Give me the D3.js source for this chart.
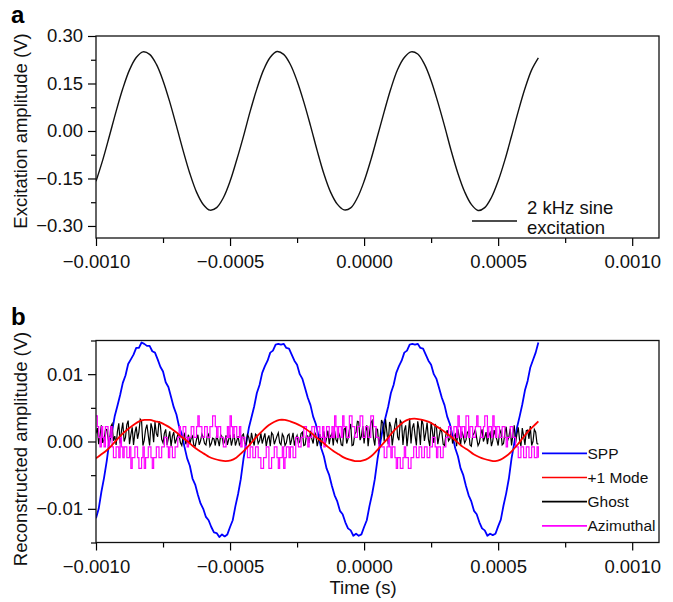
<!DOCTYPE html>
<html>
<head>
<meta charset="utf-8">
<script src="https://cdn.jsdelivr.net/npm/d3@7"></script>
<style>
  body { margin: 0; background: #fff; }
  svg { display: block; font-family: "Liberation Sans", Arial, Helvetica, sans-serif; }
</style>
</head>
<body>
<svg id="chart" width="673" height="602"></svg>
<script>
// every trace is sampled evenly over the same time window (s)
const T_START = -0.001;
const T_END = 0.00065;

// panel a: 2 kHz sine excitation (V)
const excitation = [
  -0.159, -0.092, -0.016, 0.062, 0.134, 0.193, 0.232, 0.250, 0.242, 0.211,
  0.159, 0.092, 0.016, -0.062, -0.134, -0.193, -0.232, -0.250, -0.242, -0.211,
  -0.159, -0.091, -0.017, 0.062, 0.133, 0.193, 0.233, 0.251, 0.242, 0.210,
  0.158, 0.092, 0.017, -0.062, -0.135, -0.193, -0.231, -0.249, -0.243, -0.211,
  -0.159, -0.092, -0.016, 0.061, 0.134, 0.194, 0.232, 0.250, 0.243, 0.211,
  0.159, 0.091, 0.016, -0.063, -0.134, -0.192, -0.232, -0.251, -0.242, -0.210,
  -0.158, -0.092, -0.016, 0.062, 0.134, 0.193, 0.231
];

// panel b traces, read in units of 0.1 mV
const spp = [
  -114, -100, -75, -54, -29, 1, 15, 38, 53, 69,
  87, 98, 115, 122, 129, 139, 139, 147, 145, 142,
  142, 134, 132, 122, 111, 104, 88, 81, 66, 51,
  40, 22, 11, -8, -25, -36, -55, -64, -79, -92,
  -100, -112, -117, -127, -135, -136, -142, -138, -141, -138,
  -127, -117, -96, -78, -56, -26, -3, 20, 36, 52,
  72, 84, 102, 112, 120, 132, 135, 144, 145, 144,
  145, 139, 138, 129, 120, 114, 100, 93, 79, 65,
  54, 37, 26, 8, -10, -22, -40, -50, -66, -80,
  -89, -103, -108, -120, -129, -132, -140, -137, -140, -138,
  -127, -117, -96, -78, -56, -26, -3, 20, 36, 52,
  72, 84, 102, 112, 120, 132, 135, 144, 145, 144,
  145, 139, 138, 129, 120, 114, 100, 93, 79, 65,
  54, 37, 26, 8, -10, -22, -40, -50, -66, -80,
  -89, -103, -108, -120, -129, -132, -140, -137, -139, -137,
  -126, -116, -95, -77, -55, -25, -3, 20, 37, 55,
  76, 90, 110, 121, 132, 147
];

const plusOneMode = [
  -25, -19, -13, -5, 4, 12, 19, 25, 30, 32,
  32, 30, 28, 24, 19, 13, 6, 0, -7, -13, -18, -23, -26, -28, -29,
  -28, -24, -17, -9, 0, 9, 17, 24, 29, 32,
  32, 30, 27, 23, 18, 12, 5, -1, -8, -14, -19, -24, -27, -29,
  -29, -27, -22, -14, -5, 4, 14, 22, 29, 33,
  34, 33, 31, 28, 23, 18, 12, 6, -1, -8, -13, -19, -23, -26, -28, -29,
  -27, -22, -15, -6, 4, 14, 22, 30
];

const ghost = [
  12, 20, -4, 9, 24, -2, 3, 17, 18, 5, -6, 22, 26, 1, 8, -5, 15, 27,
  -3, 16, 28, 0, 6, 25, 31, -4, 10, 21, -5, 13, 22, 4, 14, 33, 30, -6, 2, 18,
  25, 9, -6, 27, 19, -1, 29, 12, 7, 30, 24, 3,
  -2, 12, 18, -5, 5, 15, -7, 8, 14, -3, 3, 10,
  9, -2, -6, 7, 11, -4, 2, 10, -4, 5, 8, -6, -7, 3, 10, -5, 1, 11, 6, -3,
  -5, 8, 11, -7, -3, 5, 4, -6, 9, 2, -7, 10, 7, -4, 0, 9, -5, 3, 10, -6,
  3, 11, -6, 1, 8, -5, -2, 9, 11, -3,
  -4, 10, 6, -6, 13, 2, -6, 11, 9, -3, 1, 12, -3, 5, 12, -7, 4, 9, -7, 13,
  10, -4, 2, 8, 13, -2, -5, 11, 7, -6, -2, 9, 11, -5, 3, 13, -6, 4, 9, -3,
  0, 12, 14, -6, -5, 9, 8, -2, 16, 4, -3, 14, 10, -7, 2, 11, -7, 6, 15, -4,
  5, 16, -4, 8, 12, -6, 16, 3, -1, 13, 7, -5, -6, 18,
  20, -3, 4, 17, 26, -6, -5, 11, 14, 30, 29, 2, 8, 23, -3, 15, 24, -7, 12, 28,
  31, 5, -6, 19, 18, -4, 6, 32, 27, 0, 33, 14, -4, 29, 22, -6, 10, 25, 35, 7,
  2, 31, 28, -5, 16, 24, -7, 12, 34, -3, 20, 27, 9, -6, 30, 18, -5, 33, 25, 1,
  13, 28, 3, -7, 29, 15, -2, 26, 21, -4, 8, 19,
  14, -4, -6, 10, 17, 1, 4, 16, -3, 8, 11, -7, 18, 6, -5, 15, 8, -2, 2, 13,
  16, -5, -7, 9, 12, 18, 5, -6, -2, 11, 18, 0, 6, 14, -4, 9, 13, -7, 1, 17,
  9, 3, -6, 12,
  16, -5, -3, 12, 22, 1, 7, 19, -6, 10, 24, -2, 11, 21, 2, -7, 20, 8, -5, 16,
  17, 4, 23, -6, 0, 18, 14, -3, -4
];

const azimuthal = [
  38, 22, 6, -8, 22, 6, -8, 22, 22, -8, 6, 22,
  -8, -24, -24, -8, -8, -24, 6, -8, -24, -8, -8, -24, -24, -8, -40, -24, -24, -8, -8, -24,
  -40, -40, -24, -8, -40, -24, -24, -8, -8, -24, -40, -24, -24, -8, -8, -24, -24, -8, -8, 6,
  6, -8, -24, -8, -8, -24, -24, -8, -8, 6,
  22, 6, 6, 22, 22, 6, -8, 6, 6, 22, 22, 6, 6, 22, 38, 22, 22, 6, 6, 22,
  22, 6, 6, 22, 22, 38, 38, 22, 6, 22, 22, 6, 6, -8, -8, 6, 22, 6, 38, 22,
  6, 22, 22, 6, 6, 22,
  -8, 6, 6, -8, -8, -24, -24, -8, -8, -24, -24, -8, -8, -24, -24, -40, -40, -24, -24, -8,
  -8, -40, -40, -24, -24, -8, -8, -24, -40, -24, -24, -8, -40, -24, -8, -8, -24, -8, -8, -24,
  -24, 6, 6, -8, -8, 6,
  6, 22, 22, 6, -8, 6, 6, 22, 22, 6, 6, 22, 22, 6, 6, 22, -8, 6, 22, 22,
  6, 6, 22, 6, 38, 22, 6, 22, 22, 6, 38, 22, 22, 6, 6, 38, 38, 22, 22, 6,
  6, 22, 22, 38, 38, 6, 6, 22, 22, 6, 6, 38, 38, 22, 22, 6, 6, -8, -8, -8,
  -8, -24, -24, -8, 6, -8, -24, -8, -8, -24, -40, -24, -24, -40, -40, -24, -8, -24, -24, -40,
  -40, -24, -24, -8, -8, -24, -24, -8, -8, -24, -24, -8, -8, -24, -24, -8, -8, 6, 6, -8,
  -24, -8, -8, -24, -24, -8, -8, 6,
  6, 22, 22, 6, 6, 22, 22, 6, 38, 22, 6, 22, 22, 6, 38, 38, 6, 22, 22, 6,
  6, 22, 38, 22, 22, 6, 6, 22, 38, 38, 6, 22, 22, 6, 38, 22, 6, 22, 22, 6,
  6, 22, 22, 6, -8, 6, 6, 22, 22, 6, 6, -8,
  -8, -24, -24, -8, -8, -24, -24, -8, -8, -24, -24, -8, -8, -24, -24, -8, -24
];

// ticks
const xMajor = [-0.001, -0.0005, 0, 0.0005, 0.001];
const xMinor = [-0.00075, -0.00025, 0.00025, 0.00075];
const yMajorA = [-0.30, -0.15, 0, 0.15, 0.30];
const yMinorA = [-0.225, -0.075, 0.075, 0.225];
const yMajorB = [-0.01, 0, 0.01];
const yMinorB = [-0.015, -0.005, 0.005, 0.015];

const legendNames = ['SPP', '+1 Mode', 'Ghost', 'Azimuthal'];
const legendColors = ['#0000ff', '#ff0000', '#000000', '#ff00ff'];

// layout
const FONT = '"Liberation Sans", Arial, Helvetica, sans-serif';
const svg = d3.select('#chart');
const left = 96;
const plotW = 563;
const plotH = 202;

const x = d3.scaleLinear().domain([-0.001, 0.0011]).range([0, plotW]);

// turn a value list into {t, v} points on the shared time grid
function toPoints(values, unit) {
  const n = values.length;
  return values.map((v, i) => ({ t: T_START + i * (T_END - T_START) / (n - 1), v: v * unit }));
}

function drawPanel(top, yDomain, yMajor, yMinor, yFmt) {
  const g = svg.append('g').attr('transform', `translate(${left},${top})`);
  const y = d3.scaleLinear().domain(yDomain).range([plotH, 0]);

  // x axis, major + minor ticks
  g.append('g')
    .attr('transform', `translate(0,${plotH})`)
    .call(d3.axisBottom(x).tickValues(xMajor).tickSize(8).tickSizeOuter(0)
      .tickPadding(9).tickFormat(d3.format('.4f')))
    .call(a => a.select('.domain').remove())
    .attr('font-size', 18.5).attr('font-family', FONT);
  g.append('g')
    .attr('transform', `translate(0,${plotH})`)
    .call(d3.axisBottom(x).tickValues(xMinor).tickSize(5).tickSizeOuter(0).tickFormat(''))
    .call(a => a.select('.domain').remove());

  // y axis
  g.append('g')
    .call(d3.axisLeft(y).tickValues(yMajor).tickSize(8).tickSizeOuter(0)
      .tickPadding(5).tickFormat(d3.format(yFmt)))
    .call(a => a.select('.domain').remove())
    .attr('font-size', 18.5).attr('font-family', FONT);
  g.append('g')
    .call(d3.axisLeft(y).tickValues(yMinor.filter(d => d >= yDomain[0] && d <= yDomain[1]))
      .tickSize(5).tickSizeOuter(0).tickFormat(''))
    .call(a => a.select('.domain').remove());

  g.selectAll('.tick line').attr('stroke-width', 1.2);
  g.selectAll('.tick text').attr('fill', '#111');

  const clipId = 'clip' + Math.round(top);
  g.append('clipPath').attr('id', clipId)
    .append('rect').attr('width', plotW).attr('height', plotH);

  const plot = g.append('g').attr('clip-path', `url(#${clipId})`);

  g.append('rect')
    .attr('width', plotW)
    .attr('height', plotH)
    .attr('fill', 'none')
    .attr('stroke', '#111')
    .attr('stroke-width', 1.3);

  return { g, plot, y };
}

// ---------- panel a ----------
const pa = drawPanel(36, [-0.338, 0.30], yMajorA, yMinorA, '.2f');

pa.plot.append('path')
  .datum(toPoints(excitation, 1))
  .attr('fill', 'none')
  .attr('stroke', '#111')
  .attr('stroke-width', 1.4)
  .attr('d', d3.line().x(d => x(d.t)).y(d => pa.y(d.v)).curve(d3.curveCatmullRom.alpha(0.5)));

pa.g.append('line')
  .attr('x1', 376).attr('x2', 421).attr('y1', 185).attr('y2', 185)
  .attr('stroke', '#111').attr('stroke-width', 1.3);
pa.g.append('text')
  .attr('x', 431).attr('y', 178)
  .attr('font-size', 18.5).attr('fill', '#111')
  .text('2 kHz sine');
pa.g.append('text')
  .attr('x', 431).attr('y', 197.5)
  .attr('font-size', 18.5).attr('fill', '#111')
  .text('excitation');

// ---------- panel b ----------
const pb = drawPanel(340.5, [-0.015, 0.015], yMajorB, yMinorB, '.2f');

const lineB = d3.line().x(d => x(d.t)).y(d => pb.y(d.v));

pb.plot.append('path')
  .datum(toPoints(spp, 1e-4))
  .attr('fill', 'none').attr('stroke', legendColors[0]).attr('stroke-width', 1.8)
  .attr('stroke-linejoin', 'round')
  .attr('d', lineB);

pb.plot.append('path')
  .datum(toPoints(ghost, 1e-4))
  .attr('fill', 'none').attr('stroke', legendColors[2]).attr('stroke-width', 1.2)
  .attr('d', lineB);

pb.plot.append('path')
  .datum(toPoints(azimuthal, 1e-4))
  .attr('fill', 'none').attr('stroke', legendColors[3]).attr('stroke-width', 1.2)
  .attr('d', d3.line().x(d => x(d.t)).y(d => pb.y(d.v)).curve(d3.curveStepAfter));

pb.plot.append('path')
  .datum(toPoints(plusOneMode, 1e-4))
  .attr('fill', 'none').attr('stroke', legendColors[1]).attr('stroke-width', 1.8)
  .attr('d', d3.line().x(d => x(d.t)).y(d => pb.y(d.v)).curve(d3.curveCatmullRom.alpha(0.5)));

// legend
const legend = pb.g.append('g').attr('transform', 'translate(446,112.8)');
const rows = legend.selectAll('g')
  .data(legendNames)
  .join('g')
  .attr('transform', (d, i) => `translate(0,${i * 24.2})`);
rows.append('line')
  .attr('x1', 0).attr('x2', 45)
  .attr('stroke', (d, i) => legendColors[i])
  .attr('stroke-width', 1.7);
rows.append('text')
  .attr('x', 45.5).attr('dy', '0.36em')
  .attr('font-size', 15.5).attr('fill', '#111')
  .text(d => d);

// axis titles
svg.append('text')
  .attr('transform', 'translate(27,131) rotate(-90)')
  .attr('text-anchor', 'middle')
  .attr('font-size', 18.5).attr('fill', '#111')
  .text('Excitation amplitude (V)');
svg.append('text')
  .attr('transform', 'translate(27,449) rotate(-90)')
  .attr('text-anchor', 'middle')
  .attr('font-size', 18.5).attr('fill', '#111')
  .text('Reconstructed amplitude (V)');
svg.append('text')
  .attr('x', 363).attr('y', 594)
  .attr('text-anchor', 'middle')
  .attr('font-size', 18.5).attr('fill', '#111')
  .text('Time (s)');

// panel letters
svg.append('text')
  .attr('x', 11).attr('y', 23)
  .attr('font-size', 24).attr('font-weight', 'bold')
  .text('a');
svg.append('text')
  .attr('x', 11).attr('y', 325)
  .attr('font-size', 24).attr('font-weight', 'bold')
  .text('b');
</script>
</body>
</html>
